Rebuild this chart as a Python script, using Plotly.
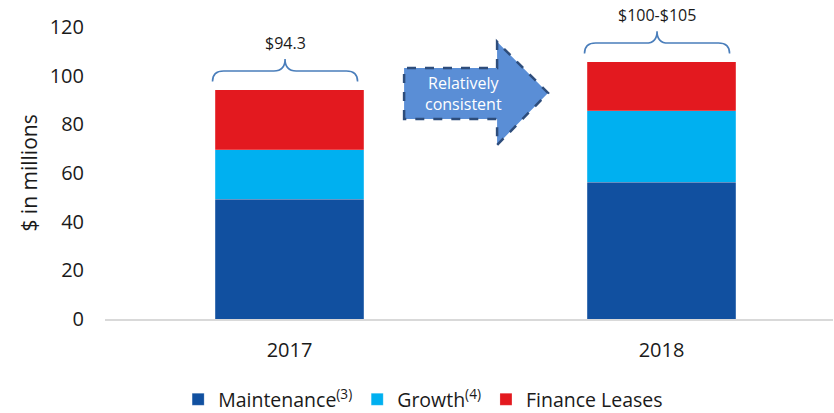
import plotly.graph_objects as go

# ---- data ----
years = ["2017", "2018"]
maintenance = [49.3, 56.2]
growth = [20.2, 29.3]
finance_leases = [24.8, 20.3]
total_labels = ["&#36;94.3", "&#36;100-&#36;105"]
series_names = ["Maintenance<sup>(3)</sup>", "Growth<sup>(4)</sup>", "Finance Leases"]
y_ticks = [0, 20, 40, 60, 80, 100, 120]
arrow_text = "Relatively<br>consistent"

# ---- style ----
colors = ["#1150A0", "#00B0F0", "#E3191F"]
FONT = "Open Sans"
BAR_W = 0.4
Y_MAX = 120
xpos = list(range(len(years)))

fig = go.Figure()
for name, vals, col in zip(series_names, [maintenance, growth, finance_leases], colors):
    fig.add_trace(go.Bar(
        x=xpos, y=vals, name=name, width=BAR_W,
        marker=dict(color=col, line=dict(color="rgba(255,255,255,0.4)", width=0.5)),
        hoverinfo="skip",
    ))

totals = [m + g + f for m, g, f in zip(maintenance, growth, finance_leases)]

# braces over each bar
shapes = []
annotations = []
hw = 0.195
rx = 0.03
for i, (t, lab) in enumerate(zip(totals, total_labels)):
    yb, yh, yp = t + 3.3, t + 7.6, t + 12.5
    xc = i - 0.012
    x0, x1 = xc - hw, xc + hw
    path = (f"M {x0},{yb} Q {x0},{yh} {x0+rx},{yh} L {xc-rx},{yh} "
            f"Q {xc},{yh} {xc},{yp} Q {xc},{yh} {xc+rx},{yh} "
            f"L {x1-rx},{yh} Q {x1},{yh} {x1},{yb}")
    shapes.append(dict(type="path", path=path, xref="x", yref="y",
                       line=dict(color="#4A7EBB", width=1.6)))
    annotations.append(dict(x=xc, y=(t + 19.2) / Y_MAX, xref="x", yref="paper",
                            xanchor="center", yanchor="middle", text=lab,
                            showarrow=False, font=dict(family=FONT, size=16, color="#1a1a1a")))

# arrow
ax0, ax1, ax2 = 0.308, 0.558, 0.695
ayt, ayb, aht, ahb, atip = 103.2, 82.2, 113.9, 71.5, 92.9
arrow_path = (f"M {ax0},{ayb} L {ax0},{ayt} L {ax1},{ayt} L {ax1},{aht} "
              f"L {ax2},{atip} L {ax1},{ahb} L {ax1},{ayb} Z")
shapes.append(dict(type="path", path=arrow_path, xref="x", yref="y",
                   fillcolor="#5A8ED6",
                   line=dict(color="#2E4D7B", width=2.5, dash="dash")))
annotations.append(dict(x=(ax0 + ax1) / 2 + 0.035, y=(ayt + ayb) / 2, xref="x", yref="y",
                        xanchor="center", yanchor="middle",
                        text=arrow_text, showarrow=False,
                        font=dict(family=FONT, size=16, color="white")))

fig.update_layout(
    width=834, height=413,
    margin=dict(l=105, r=1, t=27, b=94, autoexpand=False),
    paper_bgcolor="white", plot_bgcolor="white",
    barmode="stack",
    font=dict(family=FONT, size=20, color="#1a1a1a"),
    shapes=shapes, annotations=annotations,
    showlegend=True,
    legend=dict(orientation="h", x=0.437, xanchor="center", y=-0.276, yanchor="middle",
                font=dict(family=FONT, size=19.5, color="#1a1a1a"), traceorder="normal",
                itemwidth=30),
    xaxis=dict(range=[-0.496, 1.461], tickvals=xpos, ticktext=years,
               showgrid=False, zeroline=False, showline=True, linecolor="#D9D9D9",
               linewidth=1.5, ticks="", ticklabelstandoff=12, automargin=False,
               tickfont=dict(family=FONT, size=20)),
    yaxis=dict(range=[0, Y_MAX], tickvals=y_ticks, showgrid=False, zeroline=False,
               showline=False, ticks="", ticklabelstandoff=20, automargin=False,
               tickfont=dict(family=FONT, size=20),
               title=dict(text="$ in millions", font=dict(family=FONT, size=21), standoff=6)),
)

fig.write_html("out.html", config={"displayModeBar": False},
               post_script="document.body.style.margin='0';")
